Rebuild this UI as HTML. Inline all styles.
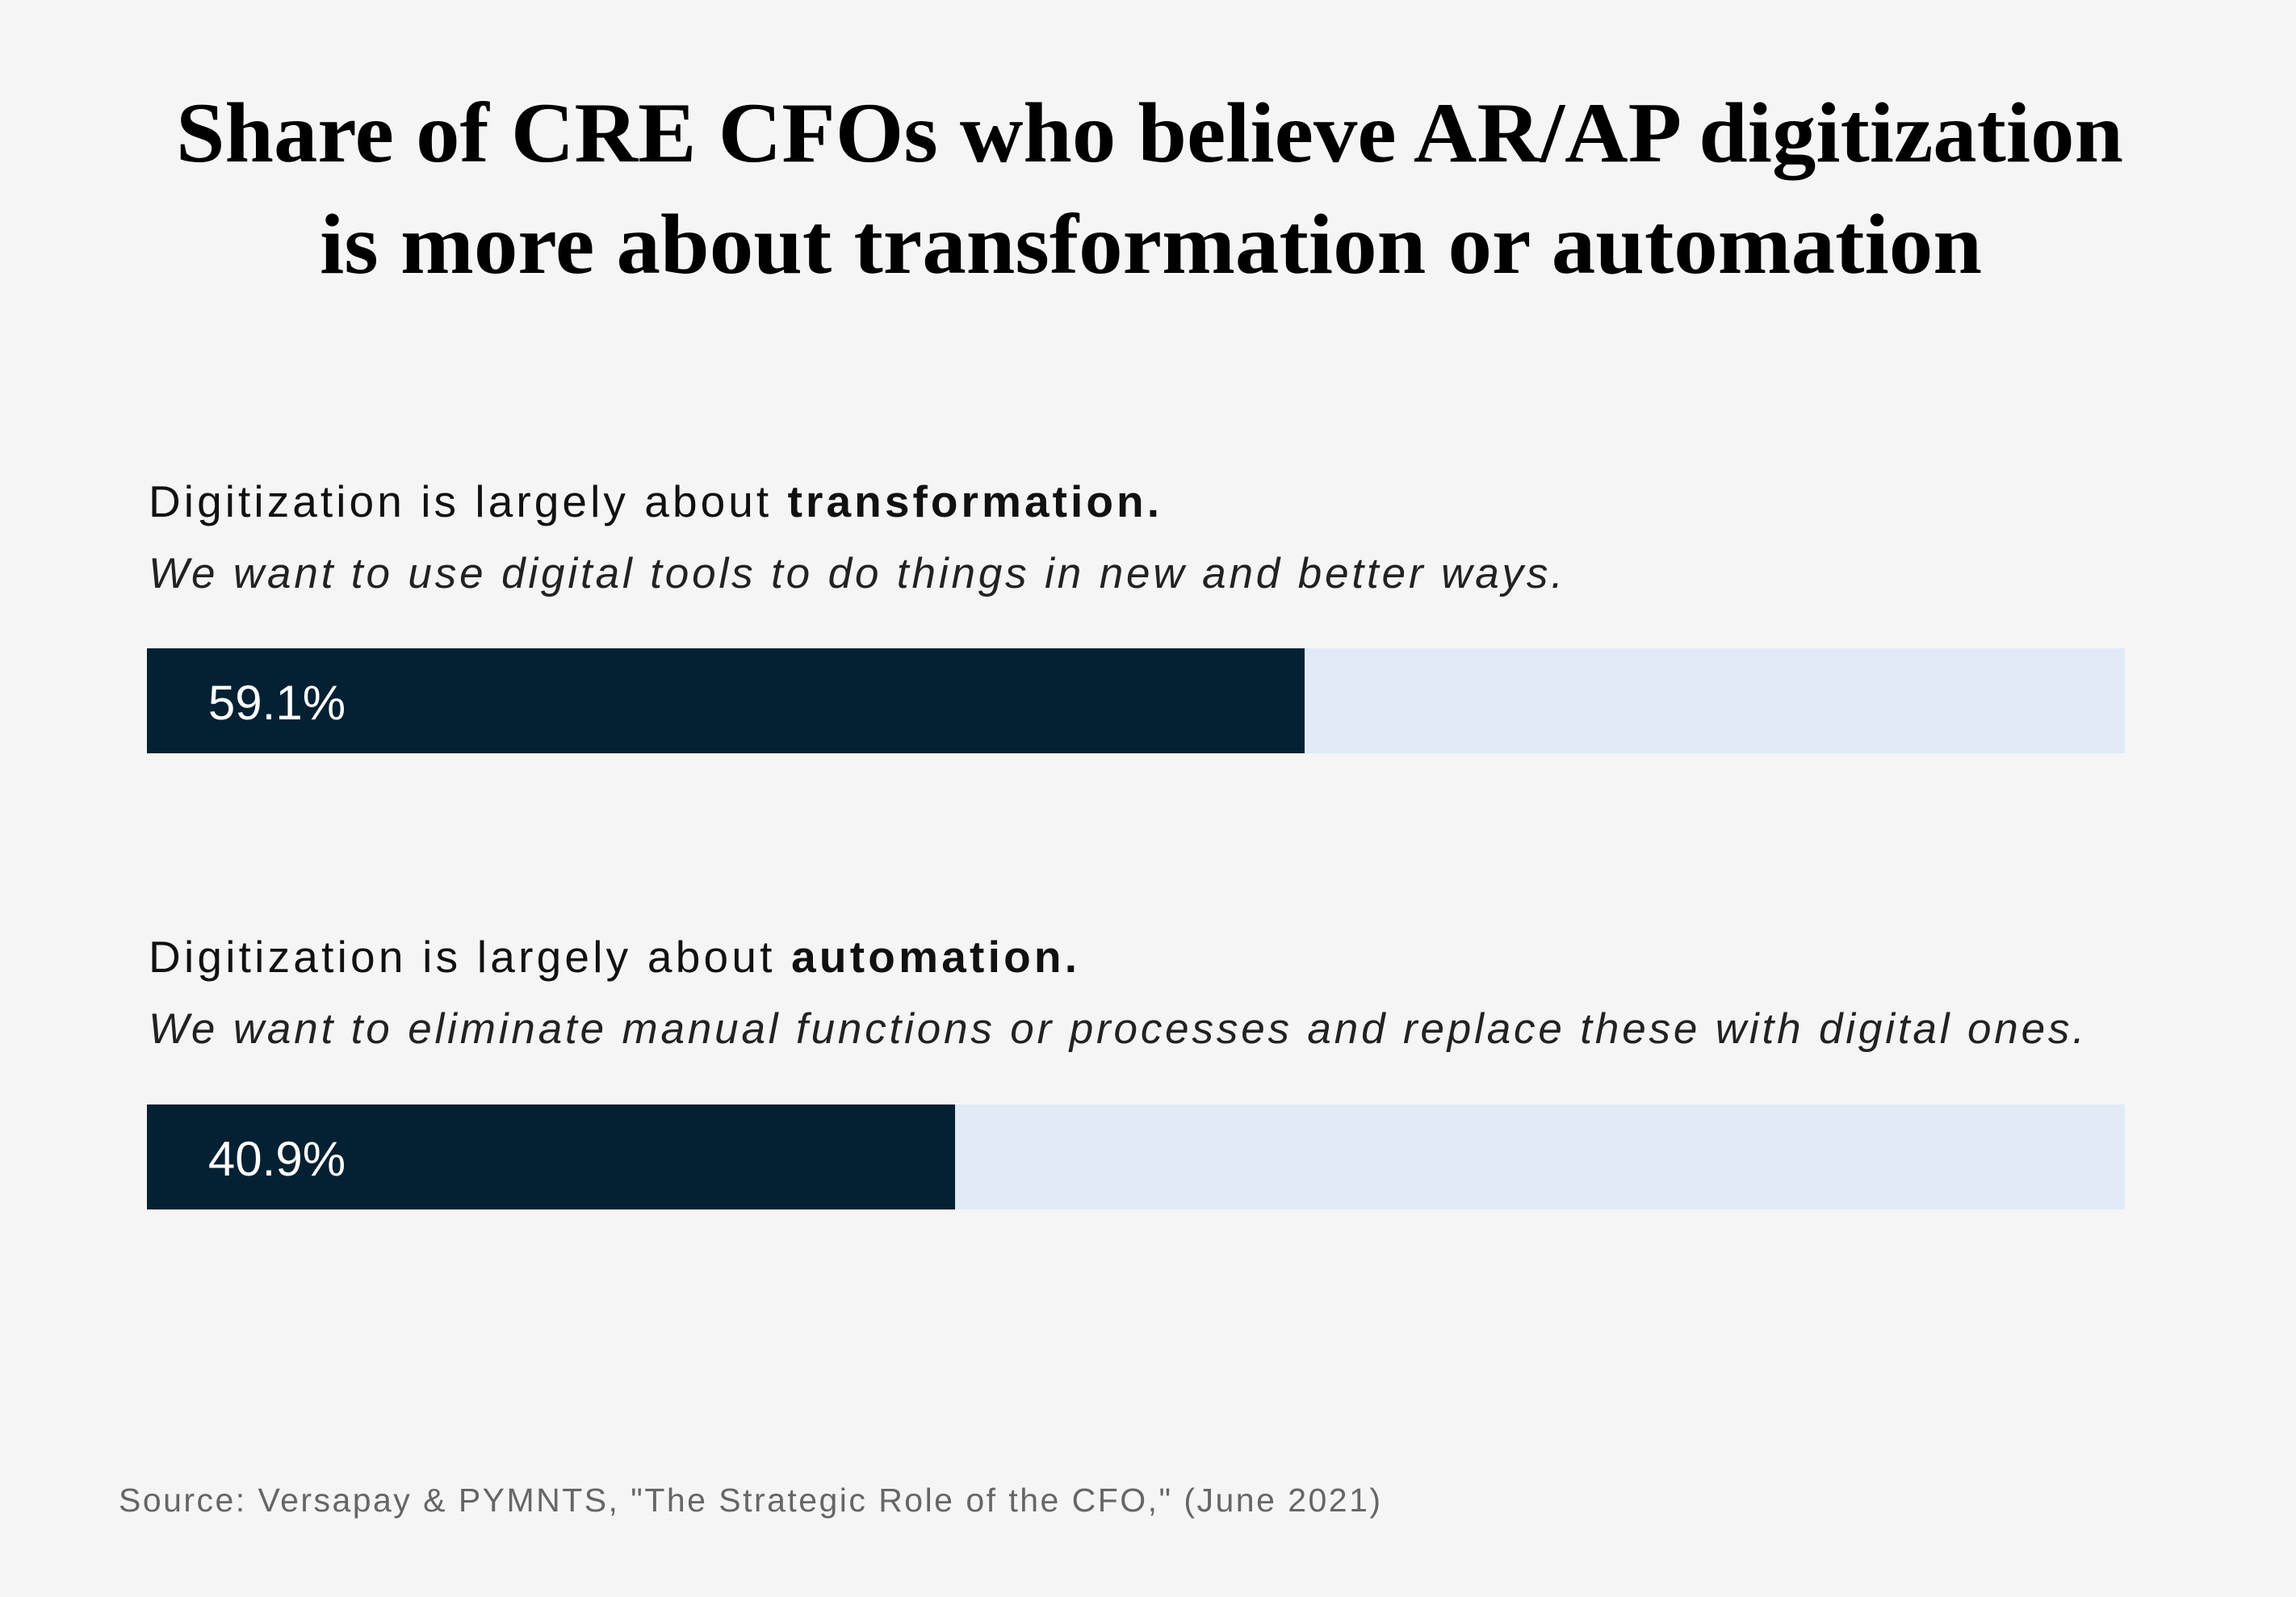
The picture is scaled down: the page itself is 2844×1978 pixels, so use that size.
<!DOCTYPE html>
<html><head><meta charset="utf-8"><style>
html,body{margin:0;padding:0;background:#f5f5f5;}
svg{display:block;}
.t{font-family:"Liberation Serif",serif;font-weight:bold;fill:#000;}
.s{font-family:"Liberation Sans",sans-serif;}
</style></head><body>
<svg id="chart" width="2844" height="1978" viewBox="0 0 2844 1978">
<rect width="2844" height="1978" fill="#f5f5f5"/>
<text class="t" x="218" y="200" font-size="106" textLength="2412" lengthAdjust="spacingAndGlyphs">Share of CRE CFOs who believe AR/AP digitization</text>
<text class="t" x="396" y="338" font-size="106" textLength="2059" lengthAdjust="spacingAndGlyphs">is more about transformation or automation</text>
<text class="s" x="184" y="640" font-size="55" fill="#111" textLength="1252" lengthAdjust="spacing">Digitization is largely about <tspan font-weight="bold">transformation.</tspan></text>
<text class="s" x="184" y="728" font-size="53" font-style="italic" fill="#222" textLength="1752" lengthAdjust="spacing">We want to use digital tools to do things in new and better ways.</text>
<text class="s" x="184" y="1204" font-size="55" fill="#111" textLength="1150" lengthAdjust="spacing">Digitization is largely about <tspan font-weight="bold">automation.</tspan></text>
<text class="s" x="184" y="1292" font-size="53" font-style="italic" fill="#222" textLength="2398" lengthAdjust="spacing">We want to eliminate manual functions or processes and replace these with digital ones.</text>
<g id="bars"></g>
<text class="s" x="147" y="1872" font-size="41" fill="#666" textLength="1563" lengthAdjust="spacing">Source: Versapay &amp; PYMNTS, "The Strategic Role of the CFO," (June 2021)</text>
</svg>
<script>
const categories = ["transformation", "automation"];
const values = [59.1, 40.9];
const valueLabels = ["59.1%", "40.9%"];
const x0 = 182, x1 = 2632;
const rowTops = [803, 1368];
const barH = 130;
function xScale(v){ return 210 + v * 23.79; }
const ns = "http://www.w3.org/2000/svg";
const g = document.getElementById("bars");
categories.forEach((c, i) => {
  const y = rowTops[i];
  const bg = document.createElementNS(ns, "rect");
  
  
  bg.setAttribute("x", x0); bg.setAttribute("y", y);
  bg.setAttribute("width", x1 - x0); bg.setAttribute("height", barH);
  bg.setAttribute("fill", "#e1ebf7");
  g.appendChild(bg);
  const r = document.createElementNS(ns, "rect");
  
  
  r.setAttribute("x", x0); r.setAttribute("y", y);
  r.setAttribute("width", xScale(values[i]) - x0); r.setAttribute("height", barH);
  r.setAttribute("fill", "#032133");
  g.appendChild(r);
  const t = document.createElementNS(ns, "text");
  
  
  t.setAttribute("x", 343); t.setAttribute("y", y + 88);
  t.setAttribute("text-anchor", "middle");
  t.setAttribute("font-size", "60");
  t.setAttribute("font-family", "Liberation Sans, sans-serif");
  t.setAttribute("fill", "#ffffff");
  t.textContent = valueLabels[i];
  g.appendChild(t);
});
</script>
</body></html>
